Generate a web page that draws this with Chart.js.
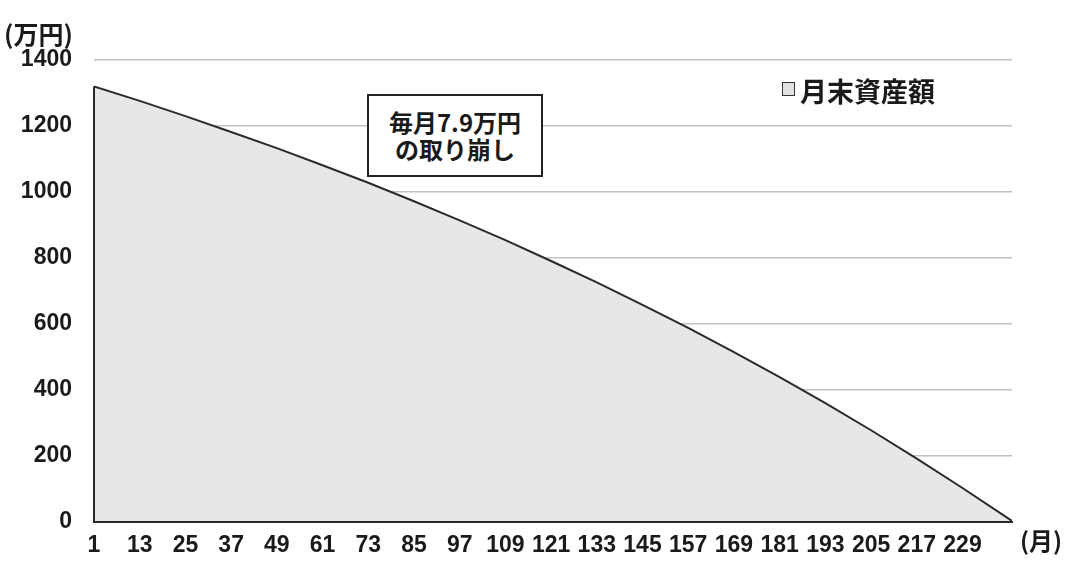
<!DOCTYPE html>
<html lang="ja">
<head>
<meta charset="utf-8">
<title>月末資産額の推移</title>
<script src="https://cdn.jsdelivr.net/npm/chart.js@4/dist/chart.umd.min.js"></script>
<style>
  html, body { margin: 0; padding: 0; background: #fff; }
  #wrap { position: relative; width: 1065px; height: 562px; overflow: hidden; background: #fff; }
  #chart { position: absolute; left: 0; top: 0; }
  .txt { position: absolute; color: #1a1a1a; font-family: "Noto Sans CJK JP", "Noto Sans", sans-serif; white-space: nowrap; line-height: 1; }
  #unitY { left: 4px; top: 21px; font-size: 25px; font-weight: 700; }
  #unitX { left: 1020px; top: 528px; font-size: 24px; font-weight: 700; }
  #legendBox { position: absolute; left: 782px; top: 82px; width: 11px; height: 12px; border: 1.5px solid #333; background: #e2e2e2; }
  #legendText { left: 800px; top: 77px; font-size: 27px; font-weight: 700; }
  #note { position: absolute; left: 367px; top: 94px; width: 172px; height: 67px; border: 2px solid #222; background: #fff;
          font-family: "Noto Sans CJK JP", sans-serif; font-weight: 700; font-size: 24px; color: #1a1a1a;
          text-align: center; line-height: 27px; padding-top: 12px; box-sizing: content-box; }
</style>
</head>
<body>
<div id="wrap">
  <canvas id="chart" width="1065" height="562"></canvas>
  <div class="txt" id="unitY">(万円)</div>
  <div class="txt" id="unitX">(月)</div>
  <div id="legendBox"></div>
  <div class="txt" id="legendText">月末資産額</div>
  <div id="note">毎月7.9万円<br>の取り崩し</div>
</div>
<script>
// Month index (1 = first month) and month-end asset balance in 万円
const months = [1, 13, 25, 37, 49, 61, 73, 85, 97, 109, 121, 133, 145, 157, 169, 181, 193, 205, 217, 229, 241, 242];
const assetValues = [1320, 1276, 1230, 1182, 1133, 1081, 1028, 972, 914, 854, 791, 726, 658, 588, 515, 439, 360, 278, 192, 103, 11, 3];

// Axis tick labels
const monthTicks = [1, 13, 25, 37, 49, 61, 73, 85, 97, 109, 121, 133, 145, 157, 169, 181, 193, 205, 217, 229];
const valueTicks = [0, 200, 400, 600, 800, 1000, 1200, 1400];

const seriesName = '月末資産額';
const numFont = { family: "'Liberation Sans Narrow', 'Liberation Sans', Arial, sans-serif", size: 23, weight: 'bold' };

// Closes the filled area with its left edge, baseline and right edge
const areaOutline = {
  id: 'areaOutline',
  afterDatasetsDraw(chart) {
    const pts = chart.getDatasetMeta(0).data;
    if (!pts.length) return;
    const y0 = chart.scales.y.getPixelForValue(0);
    const first = pts[0], last = pts[pts.length - 1];
    const ctx = chart.ctx;
    ctx.save();
    ctx.strokeStyle = '#2a2a2a';
    ctx.lineWidth = 2;
    ctx.lineJoin = 'miter';
    ctx.beginPath();
    ctx.moveTo(first.x, first.y);
    ctx.lineTo(first.x, y0);
    ctx.lineTo(last.x, y0);
    ctx.lineTo(last.x, last.y);
    ctx.stroke();
    ctx.restore();
  }
};

new Chart(document.getElementById('chart'), {
  type: 'line',
  data: {
    datasets: [{
      label: seriesName,
      data: months.map((m, i) => ({ x: m, y: assetValues[i] })),
      fill: 'origin',
      backgroundColor: '#e7e7e7',
      borderColor: '#2a2a2a',
      borderWidth: 2,
      pointRadius: 0,
      tension: 0
    }]
  },
  options: {
    responsive: false,
    animation: false,
    layout: { padding: { left: 0, top: 60, right: 53, bottom: 0 } },
    plugins: { legend: { display: false }, tooltip: { enabled: false } },
    scales: {
      x: {
        type: 'linear',
        min: months[0],
        max: months[months.length - 1],
        afterBuildTicks(scale) { scale.ticks = monthTicks.map(v => ({ value: v })); },
        afterFit(scale) { scale.height = 40; },
        grid: { display: false },
        border: { display: false },
        ticks: {
          autoSkip: false,
          maxRotation: 0,
          padding: 2,
          color: '#1a1a1a',
          font: numFont,
          callback: v => String(v)
        }
      },
      y: {
        min: 0,
        max: 1400,
        afterBuildTicks(scale) { scale.ticks = valueTicks.map(v => ({ value: v })); },
        afterFit(scale) { scale.width = 94; },
        grid: {
          drawTicks: false,
          lineWidth: 1.5,
          color: ctx => (ctx.tick && ctx.tick.value === 0) ? 'rgba(0,0,0,0)' : '#c2c2c2'
        },
        border: { display: false },
        ticks: {
          padding: 22,
          color: '#1a1a1a',
          font: numFont,
          callback: v => String(v)
        }
      }
    }
  },
  plugins: [areaOutline]
});
</script>
</body>
</html>
